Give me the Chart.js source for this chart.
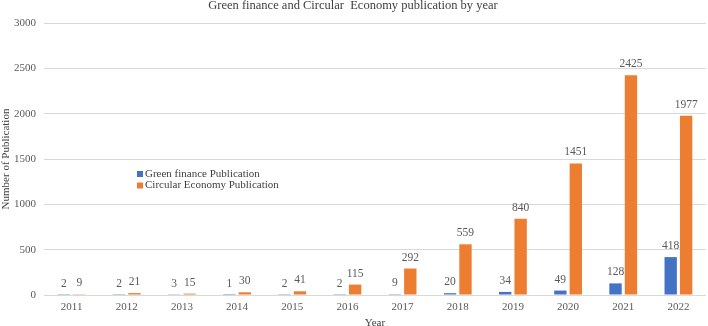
<!DOCTYPE html>
<html>
<head>
<meta charset="utf-8">
<script src="https://cdn.jsdelivr.net/npm/chart.js@4.4.1/dist/chart.umd.min.js"></script>
<style>
html,body{margin:0;padding:0;background:#fff;}
#wrap{position:relative;width:708px;height:326px;}
</style>
</head>
<body>
<div id="wrap"><canvas id="c" width="708" height="326"></canvas></div>
<script>
const years = ['2011','2012','2013','2014','2015','2016','2017','2018','2019','2020','2021','2022'];
const greenFinance = [2,2,3,1,2,2,9,20,34,49,128,418];
const circularEconomy = [9,21,15,30,41,115,292,559,840,1451,2425,1977];
const seriesNames = ['Green finance Publication','Circular Economy Publication'];
const chartTitle = 'Green finance and Circular  Economy publication by year';
const yTitle = 'Number of Publication';
const xTitle = 'Year';

const FONT = "'Liberation Serif', 'Times New Roman', serif";

const valueLabels = {
  id: 'valueLabels',
  afterDatasetsDraw(chart) {
    const ctx = chart.ctx;
    ctx.save();
    ctx.font = '11.5px ' + FONT;
    ctx.fillStyle = '#595959';
    ctx.textAlign = 'center';
    ctx.textBaseline = 'middle';
    chart.data.datasets.forEach((ds, i) => {
      const meta = chart.getDatasetMeta(i);
      meta.data.forEach((el, j) => {
        ctx.fillText(String(ds.data[j]), el.x, el.y - 11);
      });
    });
    ctx.restore();
  }
};

const innerLegend = {
  id: 'innerLegend',
  afterDraw(chart) {
    const ctx = chart.ctx;
    ctx.save();
    ctx.font = '11px ' + FONT;
    ctx.textBaseline = 'middle';
    ctx.textAlign = 'left';
    const x0 = 137;
    const y0 = 174;
    chart.data.datasets.forEach((ds, i) => {
      const y = y0 + i * 11.5;
      ctx.fillStyle = ds.backgroundColor;
      ctx.fillRect(x0, y - 3, 6, 6);
      ctx.fillStyle = '#404040';
      ctx.fillText(ds.label, x0 + 8, y);
    });
    ctx.restore();
  }
};

new Chart(document.getElementById('c'), {
  type: 'bar',
  data: {
    labels: years,
    datasets: [
      { label: seriesNames[0], data: greenFinance, backgroundColor: '#4472C4' },
      { label: seriesNames[1], data: circularEconomy, backgroundColor: '#ED7D31' }
    ]
  },
  options: {
    responsive: false,
    animation: false,
    devicePixelRatio: 1,
    layout: { padding: { left: 0, right: 2, top: 0, bottom: 0 } },
    datasets: { bar: { categoryPercentage: 0.56, barPercentage: 0.8 } },
    plugins: {
      legend: { display: false },
      tooltip: { enabled: false },
      title: {
        display: true,
        text: chartTitle,
        color: '#404040',
        font: { family: FONT, size: 12.5, weight: 'normal' },
        padding: { top: -2, bottom: 10 }
      }
    },
    scales: {
      x: {
        grid: { display: false, drawTicks: false },
        border: { display: false },
        ticks: { color: '#595959', font: { family: FONT, size: 11 }, padding: 6, maxRotation: 0 },
        title: { display: true, text: xTitle, color: '#404040', font: { family: FONT, size: 11 }, padding: { top: 0, bottom: -4 } },
        afterFit(s) { s.height = 31; }
      },
      y: {
        min: 0, max: 3000,
        ticks: { stepSize: 500, color: '#595959', font: { family: FONT, size: 11 }, padding: 8, callback: v => String(v) },
        grid: { color: '#d9d9d9', drawTicks: false, lineWidth: 1 },
        border: { display: false },
        title: { display: true, text: yTitle, color: '#404040', font: { family: FONT, size: 11 }, padding: { top: 0, bottom: 0 } },
        afterFit(s) { s.width = 44; }
      }
    }
  },
  plugins: [valueLabels, innerLegend]
});
</script>
</body>
</html>
